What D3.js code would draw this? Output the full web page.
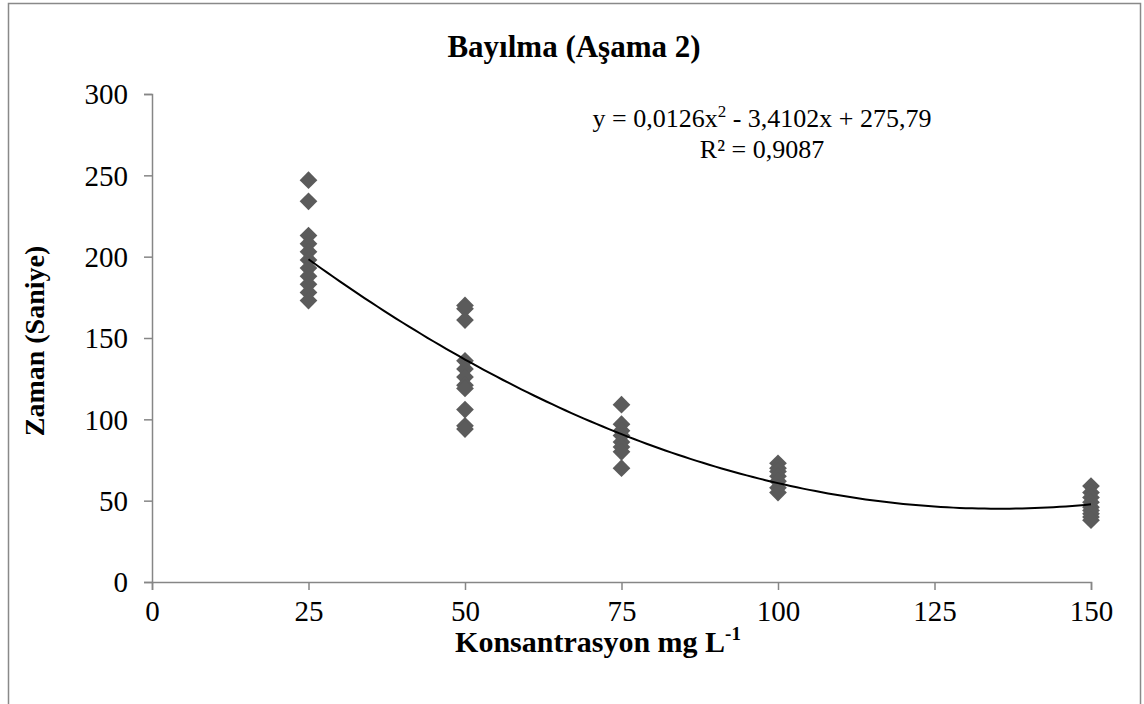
<!DOCTYPE html>
<html><head><meta charset="utf-8">
<script src="https://cdn.jsdelivr.net/npm/d3@7"></script>
<style>body{margin:0;background:#fff}svg{display:block}text{font-family:"Liberation Serif","Times New Roman",serif}</style>
</head><body><svg id="c" width="1144" height="704"></svg>
<script>
const xTicks=[0,25,50,75,100,125,150];
const yTicks=[0,50,100,150,200,250,300];
const x25=[247,234,213,208,203,198,193,188,183,178,173];
const x50=[170,168,161,136,131,126,121,119,106,96,94];
const x75=[109,97,93,90,86,83,80,70];
const x100=[73,70,68,65,62,58,55];
const x150=[59,55,52,49,46,44,42,40,38];
const groups=[[25,x25],[50,x50],[75,x75],[100,x100],[150,x150]];
const coef=[0.0126,-3.4102,275.79];
const r2="0,9087";

const svg=d3.select("#c");
svg.append("rect").attr("x",8.5).attr("y",3.5).attr("width",1132).attr("height",720).attr("fill","#fff").attr("stroke","#898989").attr("stroke-width",1.5);
const x=d3.scaleLinear().domain([0,150]).range([152,1091]);
const y=d3.scaleLinear().domain([0,300]).range([582,94]);
const axCol="#868686";
const gx=svg.append("g").attr("transform","translate(0,582)").call(d3.axisBottom(x).tickValues(xTicks).tickSize(8));
const gy=svg.append("g").attr("transform","translate(152,0)").call(d3.axisLeft(y).tickValues(yTicks).tickSize(8).tickPadding(16));
[gx,gy].forEach(g=>{g.select(".domain").attr("stroke",axCol).attr("stroke-width",1.5);g.selectAll(".tick line").attr("stroke",axCol).attr("stroke-width",1.5);g.selectAll("text").attr("font-size",29).attr("fill","#000").attr("font-family","Liberation Serif");});
gx.selectAll("text").attr("y",39).attr("dy",0);
gy.selectAll("text").attr("dy","0.34em");

const pts=[];groups.forEach(([gxv,vals])=>vals.forEach(v=>pts.push([gxv,v])));
const sym=d3.symbol().type(d3.symbolDiamond2).size(200);
svg.append("g").selectAll("path").data(pts).join("path").attr("d",sym).attr("transform",d=>`translate(${x(d[0])},${y(d[1])})`).attr("fill","#5b5b5b");

const f=t=>coef[0]*t*t+coef[1]*t+coef[2];
const curve=d3.range(25,150.01,1).map(t=>[t,f(t)]);
svg.append("path").datum(curve).attr("d",d3.line().x(d=>x(d[0])).y(d=>y(d[1]))).attr("fill","none").attr("stroke","#000").attr("stroke-width",2);

svg.append("text").attr("x",574).attr("y",57).attr("text-anchor","middle").attr("font-size",31).attr("font-weight","bold").text("Bayılma (Aşama 2)");
const eq=svg.append("text").attr("x",762).attr("y",127).attr("text-anchor","middle").attr("font-size",26);
eq.append("tspan").text("y = 0,0126x");
eq.append("tspan").attr("font-size",17).attr("dy",-10).text("2");
eq.append("tspan").attr("dy",10).text(" - 3,4102x + 275,79");
svg.append("text").attr("x",762).attr("y",158).attr("text-anchor","middle").attr("font-size",26).text("R² = "+r2);
const xl=svg.append("text").attr("x",598).attr("y",652).attr("text-anchor","middle").attr("font-size",30).attr("font-weight","bold");
xl.append("tspan").text("Konsantrasyon mg L");
xl.append("tspan").attr("font-size",19).attr("dy",-12).text("-1");
svg.append("text").attr("transform","translate(44,341) rotate(-90)").attr("text-anchor","middle").attr("font-size",28).attr("font-weight","bold").text("Zaman (Saniye)");
</script></body></html>
